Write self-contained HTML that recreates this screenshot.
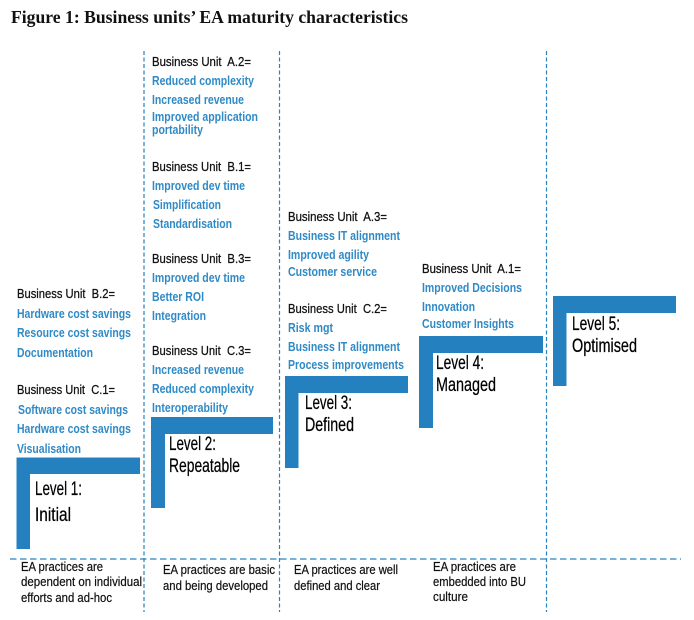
<!DOCTYPE html>
<html><head><meta charset="utf-8"><style>
html,body{margin:0;padding:0;background:#fff}
svg{display:block;filter:blur(.35px)}
text{font-family:"Liberation Sans",sans-serif;font-size:12px;white-space:pre}
.k{fill:#111;font-size:12.500px;stroke:#111;stroke-width:.25px}
.b{fill:#2f8ac6;font-weight:bold;font-size:13px}
.l{fill:#000;font-size:19px;stroke:#000;stroke-width:.25px}
.e{fill:#111;font-size:12.500px;stroke:#111;stroke-width:.2px}
.t{font-family:"Liberation Serif",serif;font-weight:bold;font-size:17.500px;fill:#111}
</style></head><body>
<svg width="694" height="620" viewBox="0 0 694 620" xmlns="http://www.w3.org/2000/svg">
<rect width="694" height="620" fill="#fff"/>
<text class="t" x="11" y="23" textLength="397" lengthAdjust="spacingAndGlyphs">Figure 1: Business units’ EA maturity characteristics</text>
<g stroke="#2a82bf" stroke-width="1.2" fill="none">
<g stroke-dasharray="4 2.5">
<line x1="144" y1="51" x2="144" y2="612"/>
<line x1="279.5" y1="51" x2="279.5" y2="612"/>
<line x1="546.5" y1="51" x2="546.5" y2="612"/>
</g>
<line x1="10" y1="559" x2="681" y2="559" stroke-dasharray="6.500 3.500"/>
</g>
<g fill="#2580bf">
<path d="M16.5 457.5H140V474H30V549H16.5Z"/>
<path d="M151 417H273V434H165V508H151Z"/>
<path d="M285 376H408V393H298.500V468H285Z"/>
<path d="M419 336H543V353H433V428H419Z"/>
<path d="M553 296H676V313H566.500V386H553Z"/>
</g>
<g>
<text class="k" x="17" y="298" textLength="98" lengthAdjust="spacingAndGlyphs">Business Unit  B.2=</text>
<text class="b" x="17" y="318" textLength="114" lengthAdjust="spacingAndGlyphs">Hardware cost savings</text>
<text class="b" x="17" y="337" textLength="114" lengthAdjust="spacingAndGlyphs">Resource cost savings</text>
<text class="b" x="17" y="357" textLength="76" lengthAdjust="spacingAndGlyphs">Documentation</text>
<text class="k" x="17" y="394" textLength="98" lengthAdjust="spacingAndGlyphs">Business Unit  C.1=</text>
<text class="b" x="18" y="414" textLength="110" lengthAdjust="spacingAndGlyphs">Software cost savings</text>
<text class="b" x="17" y="433" textLength="114" lengthAdjust="spacingAndGlyphs">Hardware cost savings</text>
<text class="b" x="17" y="453" textLength="64" lengthAdjust="spacingAndGlyphs">Visualisation</text>

<text class="k" x="152" y="66" textLength="99" lengthAdjust="spacingAndGlyphs">Business Unit  A.2=</text>
<text class="b" x="152" y="85" textLength="102" lengthAdjust="spacingAndGlyphs">Reduced complexity</text>
<text class="b" x="152" y="104" textLength="92" lengthAdjust="spacingAndGlyphs">Increased revenue</text>
<text class="b" x="152" y="121" textLength="106" lengthAdjust="spacingAndGlyphs">Improved application</text>
<text class="b" x="152" y="134" textLength="51" lengthAdjust="spacingAndGlyphs">portability</text>
<text class="k" x="152" y="171" textLength="99" lengthAdjust="spacingAndGlyphs">Business Unit  B.1=</text>
<text class="b" x="152" y="190" textLength="93" lengthAdjust="spacingAndGlyphs">Improved dev time</text>
<text class="b" x="153" y="209" textLength="68" lengthAdjust="spacingAndGlyphs">Simplification</text>
<text class="b" x="153" y="228" textLength="79" lengthAdjust="spacingAndGlyphs">Standardisation</text>
<text class="k" x="152" y="263" textLength="99" lengthAdjust="spacingAndGlyphs">Business Unit  B.3=</text>
<text class="b" x="152" y="282" textLength="93" lengthAdjust="spacingAndGlyphs">Improved dev time</text>
<text class="b" x="152" y="301" textLength="52" lengthAdjust="spacingAndGlyphs">Better ROI</text>
<text class="b" x="152" y="320" textLength="54" lengthAdjust="spacingAndGlyphs">Integration</text>
<text class="k" x="152" y="355" textLength="99" lengthAdjust="spacingAndGlyphs">Business Unit  C.3=</text>
<text class="b" x="152" y="374" textLength="92" lengthAdjust="spacingAndGlyphs">Increased revenue</text>
<text class="b" x="152" y="393" textLength="102" lengthAdjust="spacingAndGlyphs">Reduced complexity</text>
<text class="b" x="152" y="412" textLength="76" lengthAdjust="spacingAndGlyphs">Interoperability</text>

<text class="k" x="288" y="221" textLength="99" lengthAdjust="spacingAndGlyphs">Business Unit  A.3=</text>
<text class="b" x="288" y="240" textLength="112" lengthAdjust="spacingAndGlyphs">Business IT alignment</text>
<text class="b" x="288" y="259" textLength="81" lengthAdjust="spacingAndGlyphs">Improved agility</text>
<text class="b" x="288" y="276" textLength="89" lengthAdjust="spacingAndGlyphs">Customer service</text>
<text class="k" x="288" y="313" textLength="99" lengthAdjust="spacingAndGlyphs">Business Unit  C.2=</text>
<text class="b" x="288" y="332" textLength="45" lengthAdjust="spacingAndGlyphs">Risk mgt</text>
<text class="b" x="288" y="351" textLength="112" lengthAdjust="spacingAndGlyphs">Business IT alignment</text>
<text class="b" x="288" y="369" textLength="116" lengthAdjust="spacingAndGlyphs">Process improvements</text>

<text class="k" x="422" y="273" textLength="99" lengthAdjust="spacingAndGlyphs">Business Unit  A.1=</text>
<text class="b" x="422" y="292" textLength="100" lengthAdjust="spacingAndGlyphs">Improved Decisions</text>
<text class="b" x="422" y="311" textLength="53" lengthAdjust="spacingAndGlyphs">Innovation</text>
<text class="b" x="422" y="328" textLength="92" lengthAdjust="spacingAndGlyphs">Customer Insights</text>

<text class="l" x="35" y="495" textLength="47" lengthAdjust="spacingAndGlyphs">Level 1:</text>
<text class="l" x="35" y="521" textLength="36" lengthAdjust="spacingAndGlyphs">Initial</text>
<text class="l" x="169" y="450" textLength="47" lengthAdjust="spacingAndGlyphs">Level 2:</text>
<text class="l" x="169" y="472" textLength="71" lengthAdjust="spacingAndGlyphs">Repeatable</text>
<text class="l" x="305" y="409" textLength="47" lengthAdjust="spacingAndGlyphs">Level 3:</text>
<text class="l" x="305" y="431" textLength="49" lengthAdjust="spacingAndGlyphs">Defined</text>
<text class="l" x="436" y="369" textLength="48" lengthAdjust="spacingAndGlyphs">Level 4:</text>
<text class="l" x="436" y="391" textLength="60" lengthAdjust="spacingAndGlyphs">Managed</text>
<text class="l" x="572" y="330" textLength="48" lengthAdjust="spacingAndGlyphs">Level 5:</text>
<text class="l" x="572" y="352" textLength="65" lengthAdjust="spacingAndGlyphs">Optimised</text>

<text class="e" x="21" y="571" textLength="82" lengthAdjust="spacingAndGlyphs">EA practices are</text>
<text class="e" x="21" y="586" textLength="121" lengthAdjust="spacingAndGlyphs">dependent on individual</text>
<text class="e" x="21" y="602" textLength="91" lengthAdjust="spacingAndGlyphs">efforts and ad-hoc</text>
<text class="e" x="163" y="574" textLength="112" lengthAdjust="spacingAndGlyphs">EA practices are basic</text>
<text class="e" x="163" y="590" textLength="105" lengthAdjust="spacingAndGlyphs">and being developed</text>
<text class="e" x="294" y="574" textLength="104" lengthAdjust="spacingAndGlyphs">EA practices are well</text>
<text class="e" x="294" y="590" textLength="86" lengthAdjust="spacingAndGlyphs">defined and clear</text>
<text class="e" x="433" y="571" textLength="83" lengthAdjust="spacingAndGlyphs">EA practices are</text>
<text class="e" x="433" y="586" textLength="93" lengthAdjust="spacingAndGlyphs">embedded into BU</text>
<text class="e" x="433" y="601" textLength="35" lengthAdjust="spacingAndGlyphs">culture</text>
</g>
</svg>
</body></html>
